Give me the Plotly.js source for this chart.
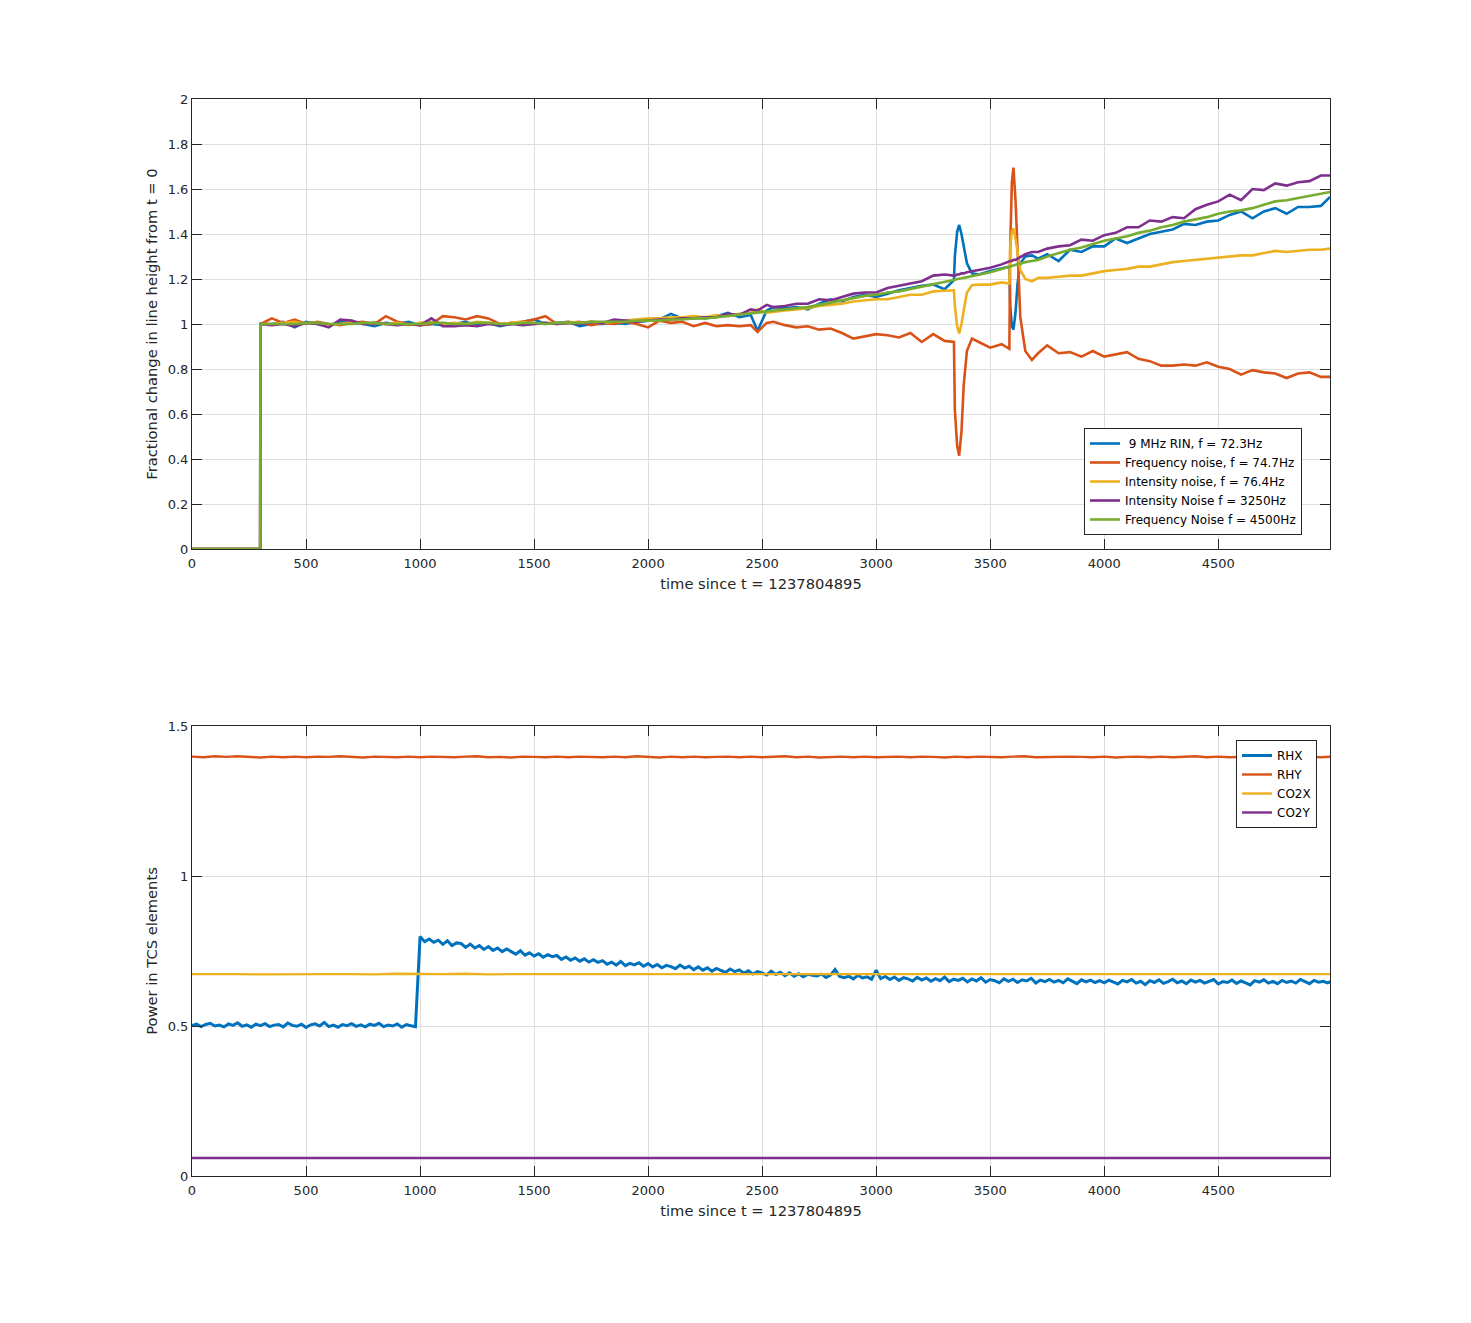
<!DOCTYPE html>
<html>
<head>
<meta charset="utf-8">
<script src="https://cdn.plot.ly/plotly-3.0.1.min.js"></script>
<style>
  html, body { margin: 0; padding: 0; background: #fff; }
  #chart { width: 1471px; height: 1323px; }
</style>
</head>
<body>
<div id="chart"></div>
<script>
// ---------------- Top panel data ----------------
const tTop = [
  0, 299, 300,
  350, 400, 450, 500, 550, 600, 650, 700, 750, 800,
  850, 900, 950, 1000, 1050, 1100, 1150, 1200, 1250, 1300,
  1350, 1400, 1450, 1500, 1550, 1600, 1650, 1700, 1750, 1800,
  1850, 1900, 1950, 2000, 2050, 2100, 2150, 2200, 2250, 2300,
  2350, 2400, 2450,
  2480, 2520,
  2550, 2600, 2650, 2700, 2750, 2800, 2850, 2900, 2950, 3000, 3050, 3100, 3150, 3200, 3250, 3300,
  3341, 3345, 3355, 3364, 3374, 3384, 3398, 3420, 3450,
  3500, 3550,
  3584, 3588, 3595, 3602, 3611, 3620, 3632, 3654, 3683, 3710,
  3750, 3800, 3850, 3900, 3950, 4000, 4050, 4100, 4150, 4200, 4250, 4300, 4350,
  4400, 4450, 4500, 4550, 4600, 4650, 4700, 4750, 4800, 4850, 4900, 4950,
  4990
];

const rin72 = [
  0, 0, 1.00,
  1.00, 1.01, 0.985, 1.01, 1.00, 0.99, 1.01, 1.005, 1.00, 0.99,
  1.005, 1.00, 1.01, 0.995, 1.00, 0.995, 1.00, 1.01, 0.995, 1.005,
  0.99, 1.00, 1.01, 1.02, 1.00, 1.005, 1.01, 0.99, 1.00, 1.00,
  1.005, 1.00, 1.01, 1.015, 1.02, 1.045, 1.025, 1.03, 1.025, 1.035,
  1.05, 1.03, 1.04,
  0.97, 1.06,
  1.075, 1.07, 1.075, 1.065, 1.09, 1.11, 1.10, 1.12, 1.13, 1.12, 1.135, 1.15, 1.16, 1.17, 1.175, 1.155,
  1.195, 1.30, 1.41, 1.44, 1.40, 1.35, 1.27, 1.225, 1.22,
  1.235, 1.245,
  1.255, 1.08, 0.99, 0.975, 1.05, 1.18, 1.27, 1.30, 1.305, 1.29,
  1.31, 1.28, 1.33, 1.32, 1.345, 1.345, 1.38, 1.36, 1.38, 1.40, 1.41, 1.42, 1.445,
  1.44, 1.455, 1.46, 1.485, 1.50, 1.47, 1.50, 1.515, 1.49, 1.52, 1.52, 1.525,
  1.565
];

const freq747 = [
  0, 0, 1.00,
  1.025, 1.005, 1.02, 1.00, 1.01, 1.00, 0.995, 1.005, 1.01, 1.00,
  1.035, 1.01, 1.00, 0.995, 1.00, 1.035, 1.03, 1.02, 1.035, 1.025,
  1.00, 1.005, 1.01, 1.02, 1.035, 1.00, 1.005, 1.01, 0.995, 1.005,
  1.00, 1.01, 1.00, 0.985, 1.015, 1.005, 1.01, 0.99, 1.005, 0.99,
  0.995, 0.99, 0.995,
  0.965, 1.005,
  1.01, 0.995, 0.985, 0.99, 0.975, 0.98, 0.96, 0.935, 0.945, 0.955, 0.95, 0.94, 0.96, 0.92, 0.955, 0.925,
  0.92, 0.62, 0.46, 0.415, 0.52, 0.73, 0.88, 0.935, 0.92,
  0.895, 0.91,
  0.89, 1.35, 1.63, 1.695, 1.55, 1.33, 1.03, 0.88, 0.84, 0.87,
  0.905, 0.87, 0.875, 0.855, 0.88, 0.855, 0.865, 0.875, 0.845, 0.835, 0.815, 0.815, 0.82,
  0.815, 0.83, 0.81, 0.80, 0.775, 0.795, 0.785, 0.78, 0.76, 0.78, 0.785, 0.765,
  0.765
];

const int764 = [
  0, 0, 1.00,
  1.00, 1.005, 1.01, 1.00, 1.005, 0.995, 1.00, 1.01, 1.00, 1.005,
  1.00, 1.005, 0.995, 1.005, 1.01, 1.00, 1.005, 1.00, 1.01, 1.005,
  1.00, 1.005, 1.01, 1.00, 1.005, 1.00, 1.01, 1.005, 1.01, 1.005,
  1.01, 1.015, 1.02, 1.025, 1.025, 1.03, 1.03, 1.035, 1.03, 1.04,
  1.035, 1.045, 1.05,
  1.065, 1.05,
  1.055, 1.06, 1.065, 1.07, 1.08, 1.085, 1.09, 1.10, 1.105, 1.11, 1.11, 1.12, 1.13, 1.13, 1.145, 1.148,
  1.15, 1.08, 0.99, 0.958, 1.00, 1.06, 1.14, 1.172, 1.175,
  1.175, 1.185,
  1.18, 1.35, 1.41, 1.425, 1.38, 1.31, 1.24, 1.20, 1.19, 1.205,
  1.205, 1.21, 1.215, 1.215, 1.225, 1.235, 1.24, 1.245, 1.255, 1.255, 1.265, 1.275, 1.28,
  1.285, 1.29, 1.295, 1.30, 1.305, 1.305, 1.315, 1.325, 1.32, 1.325, 1.33, 1.33,
  1.335
];

const int3250 = [
  0, 0, 1.00,
  0.995, 1.00, 0.99, 1.005, 1.00, 0.985, 1.02, 1.015, 1.00, 1.005,
  1.00, 0.995, 1.00, 0.995, 1.025, 0.99, 0.99, 0.995, 0.99, 1.00,
  0.995, 1.00, 0.995, 1.00, 1.005, 1.00, 1.005, 1.00, 1.01, 1.005,
  1.02, 1.015, 1.01, 1.015, 1.02, 1.02, 1.025, 1.025, 1.03, 1.03,
  1.045, 1.04, 1.065,
  1.06, 1.085,
  1.075, 1.08, 1.09, 1.09, 1.11, 1.105, 1.12, 1.135, 1.14, 1.14, 1.16, 1.17, 1.18, 1.19, 1.215, 1.22,
  1.215, 1.215, 1.22, 1.22, 1.225, 1.225, 1.23, 1.235, 1.24,
  1.25, 1.265,
  1.28, 1.28, 1.28, 1.285, 1.285, 1.29, 1.30, 1.31, 1.32, 1.32,
  1.335, 1.345, 1.35, 1.375, 1.37, 1.395, 1.405, 1.43, 1.43, 1.46, 1.455, 1.475, 1.47,
  1.51, 1.53, 1.545, 1.575, 1.55, 1.60, 1.595, 1.625, 1.615, 1.63, 1.635, 1.66,
  1.66
];

const freq4500 = [
  0, 0, 1.00,
  1.00, 1.00, 1.00, 1.005, 1.005, 1.00, 1.00, 1.00, 1.005, 1.005,
  1.00, 1.00, 1.00, 1.00, 1.005, 1.005, 1.00, 1.00, 1.005, 1.005,
  1.00, 1.00, 1.005, 1.005, 1.00, 1.005, 1.005, 1.005, 1.01, 1.01,
  1.01, 1.01, 1.015, 1.015, 1.015, 1.02, 1.02, 1.025, 1.025, 1.03,
  1.035, 1.04, 1.045,
  1.05, 1.055,
  1.06, 1.065, 1.07, 1.075, 1.085, 1.095, 1.105, 1.115, 1.125, 1.13, 1.14, 1.145, 1.155, 1.165, 1.175, 1.185,
  1.195, 1.197, 1.20, 1.20, 1.203, 1.205, 1.208, 1.213, 1.22,
  1.23, 1.245,
  1.255, 1.256, 1.258, 1.26, 1.262, 1.265, 1.268, 1.275, 1.28, 1.285,
  1.30, 1.315, 1.33, 1.34, 1.355, 1.37, 1.38, 1.39, 1.405, 1.415, 1.43, 1.44, 1.455,
  1.465, 1.475, 1.49, 1.50, 1.505, 1.515, 1.53, 1.545, 1.55, 1.56, 1.57, 1.58,
  1.587
];

const topNames = [
  ' 9 MHz RIN, f = 72.3Hz',
  'Frequency noise, f = 74.7Hz',
  'Intensity noise, f = 76.4Hz',
  'Intensity Noise f = 3250Hz',
  'Frequency Noise f = 4500Hz'
];

// ---------------- Bottom panel data ----------------
// RHX sampled every 20 s from t = 0
const rhx = [
  0.501,0.506,0.498,0.505,0.509,0.500,0.503,0.497,0.507,0.502,
  0.511,0.499,0.504,0.496,0.506,0.501,0.508,0.498,0.503,0.505,
  0.497,0.510,0.502,0.499,0.506,0.495,0.504,0.507,0.500,0.512,
  0.498,0.503,0.496,0.505,0.501,0.508,0.499,0.504,0.497,0.506,
  0.502,0.509,0.498,0.503,0.500,0.507,0.496,0.505,0.501,0.498,
  0.798,0.781,0.790,0.779,0.786,0.772,0.784,0.768,0.777,0.775,
  0.762,0.773,0.760,0.768,0.755,0.765,0.752,0.760,0.748,0.757,
  0.748,0.739,0.751,0.736,0.744,0.733,0.741,0.729,0.738,0.731,
  0.735,0.722,0.730,0.719,0.727,0.716,0.724,0.713,0.721,0.712,
  0.718,0.706,0.713,0.703,0.715,0.701,0.709,0.704,0.711,0.699,
  0.708,0.697,0.705,0.694,0.702,0.698,0.691,0.703,0.693,0.699,
  0.688,0.697,0.686,0.694,0.683,0.692,0.685,0.679,0.690,0.681,
  0.687,0.676,0.684,0.673,0.681,0.677,0.670,0.683,0.672,0.679,
  0.668,0.677,0.666,0.674,0.664,0.672,0.669,0.667,0.673,0.662,
  0.670,0.688,0.665,0.661,0.666,0.657,0.669,0.660,0.664,0.656,
  0.686,0.658,0.665,0.655,0.663,0.652,0.661,0.657,0.650,0.662,
  0.653,0.660,0.649,0.658,0.651,0.663,0.648,0.656,0.652,0.659,
  0.647,0.657,0.650,0.661,0.646,0.655,0.651,0.644,0.657,0.649,
  0.656,0.645,0.654,0.650,0.659,0.643,0.653,0.648,0.655,0.646,
  0.652,0.644,0.657,0.649,0.641,0.654,0.647,0.653,0.645,0.651,
  0.644,0.653,0.646,0.640,0.652,0.647,0.655,0.643,0.649,0.638,
  0.651,0.645,0.654,0.642,0.648,0.656,0.644,0.650,0.641,0.653,
  0.646,0.652,0.643,0.649,0.655,0.640,0.648,0.645,0.653,0.642,
  0.650,0.644,0.637,0.651,0.646,0.654,0.643,0.649,0.641,0.652,
  0.645,0.650,0.643,0.655,0.647,0.641,0.652,0.646,0.649,0.644,
  0.650
];
// RHY sampled every 50 s
const rhy = [
  1.398,1.396,1.399,1.397,1.399,1.397,1.395,1.398,1.396,1.398,
  1.396,1.398,1.397,1.399,1.396,1.395,1.398,1.397,1.396,1.398,
  1.396,1.398,1.397,1.396,1.398,1.399,1.396,1.397,1.395,1.398,
  1.397,1.396,1.398,1.396,1.398,1.397,1.396,1.398,1.396,1.399,
  1.397,1.395,1.398,1.396,1.398,1.396,1.397,1.398,1.396,1.398,
  1.396,1.397,1.399,1.396,1.398,1.395,1.397,1.398,1.396,1.398,
  1.396,1.397,1.398,1.396,1.398,1.397,1.395,1.398,1.396,1.398,
  1.397,1.396,1.398,1.399,1.396,1.397,1.396,1.398,1.397,1.396,
  1.398,1.395,1.397,1.398,1.396,1.398,1.396,1.397,1.399,1.396,
  1.398,1.396,1.397,1.398,1.396,1.398,1.395,1.397,1.398,1.396,
  1.398
];
// CO2X sampled every 100 s
const co2x = [
  0.673,0.674,0.673,0.672,0.673,0.674,0.673,0.673,0.672,0.674,
  0.673,0.673,0.674,0.672,0.673,0.673,0.674,0.673,0.672,0.673,
  0.674,0.673,0.673,0.672,0.674,0.673,0.673,0.674,0.672,0.673,
  0.673,0.674,0.673,0.672,0.673,0.674,0.673,0.673,0.672,0.674,
  0.673,0.673,0.674,0.673,0.672,0.673,0.674,0.673,0.673,0.672,
  0.673
];
// CO2Y sampled every 500 s
const co2y = [0.060,0.060,0.060,0.060,0.060,0.060,0.060,0.060,0.060,0.060,0.060];

const bottomNames = ['RHX', 'RHY', 'CO2X', 'CO2Y'];

const colors = ['#0072BD', '#D95319', '#EDB120', '#7E2F8E', '#77AC30'];
const xTicks = [0, 500, 1000, 1500, 2000, 2500, 3000, 3500, 4000, 4500];
const xTitle = 'time since t = 1237804895';
const yTitleTop = 'Fractional change in line height from t = 0';
const yTitleBottom = 'Power in TCS elements';

// ---------------- Traces ----------------
const topSeries = [rin72, freq747, int764, int3250, freq4500];
const traces = [];
topSeries.forEach((ys, i) => {
  traces.push({
    type: 'scatter', mode: 'lines', x: tTop, y: ys, name: topNames[i],
    xaxis: 'x', yaxis: 'y', legend: 'legend',
    line: { color: colors[i], width: 2.6 }
  });
});
const bottomSeries = [
  { y: rhx, dx: 20, w: 3 }, { y: rhy, dx: 50, w: 2.4 }, { y: co2x, dx: 100, w: 2.4 }, { y: co2y, dx: 500, w: 2.4 }
];
bottomSeries.forEach((s, i) => {
  traces.push({
    type: 'scatter', mode: 'lines', x0: 0, dx: s.dx, y: s.y, name: bottomNames[i],
    xaxis: 'x2', yaxis: 'y2', legend: 'legend2',
    line: { color: colors[i], width: s.w }
  });
});

// ---------------- Layout ----------------
const axisBase = {
  showline: true, linecolor: '#262626', linewidth: 1, mirror: 'ticks',
  ticks: 'inside', ticklen: 10, tickwidth: 1, tickcolor: '#262626',
  showgrid: true, gridcolor: '#dedede', gridwidth: 1, zeroline: false,
  tickfont: { size: 13, color: '#262626' }, fixedrange: true
};
const xDomain = [192 / 1471, 1330 / 1471];

const layout = {
  width: 1471, height: 1323,
  margin: { l: 0, r: 0, t: 0, b: 0 },
  paper_bgcolor: '#ffffff', plot_bgcolor: '#ffffff',
  font: { family: 'DejaVu Sans', size: 13, color: '#262626' },
  showlegend: true,
  xaxis: Object.assign({}, axisBase, {
    domain: xDomain, anchor: 'y', range: [0, 4990], tickvals: xTicks, ticklabelstandoff: 2,
    title: { text: xTitle, font: { size: 14.7, color: '#262626' }, standoff: 9 }
  }),
  yaxis: Object.assign({}, axisBase, {
    domain: [1 - 549 / 1323, 1 - 99 / 1323], anchor: 'x', range: [0, 2], dtick: 0.2,
    title: { text: yTitleTop, font: { size: 14.7, color: '#262626' }, standoff: 6 }
  }),
  xaxis2: Object.assign({}, axisBase, {
    domain: xDomain, anchor: 'y2', range: [0, 4990], tickvals: xTicks, ticklabelstandoff: 2,
    title: { text: xTitle, font: { size: 14.7, color: '#262626' }, standoff: 9 }
  }),
  yaxis2: Object.assign({}, axisBase, {
    domain: [1 - 1176 / 1323, 1 - 726 / 1323], anchor: 'x2', range: [0, 1.5], dtick: 0.5,
    title: { text: yTitleBottom, font: { size: 14.7, color: '#262626' }, standoff: 6 }
  }),
  legend: {
    x: 1302 / 1471, xanchor: 'right', y: 1 - 535 / 1323, yanchor: 'bottom',
    bgcolor: '#ffffff', bordercolor: '#262626', borderwidth: 1,
    font: { size: 12, color: '#000000' }
  },
  legend2: {
    x: 1317 / 1471, xanchor: 'right', y: 1 - 740 / 1323, yanchor: 'top',
    bgcolor: '#ffffff', bordercolor: '#262626', borderwidth: 1,
    font: { size: 12, color: '#000000' }
  }
};

Plotly.newPlot('chart', traces, layout, { displayModeBar: false, staticPlot: true });
</script>
</body>
</html>
